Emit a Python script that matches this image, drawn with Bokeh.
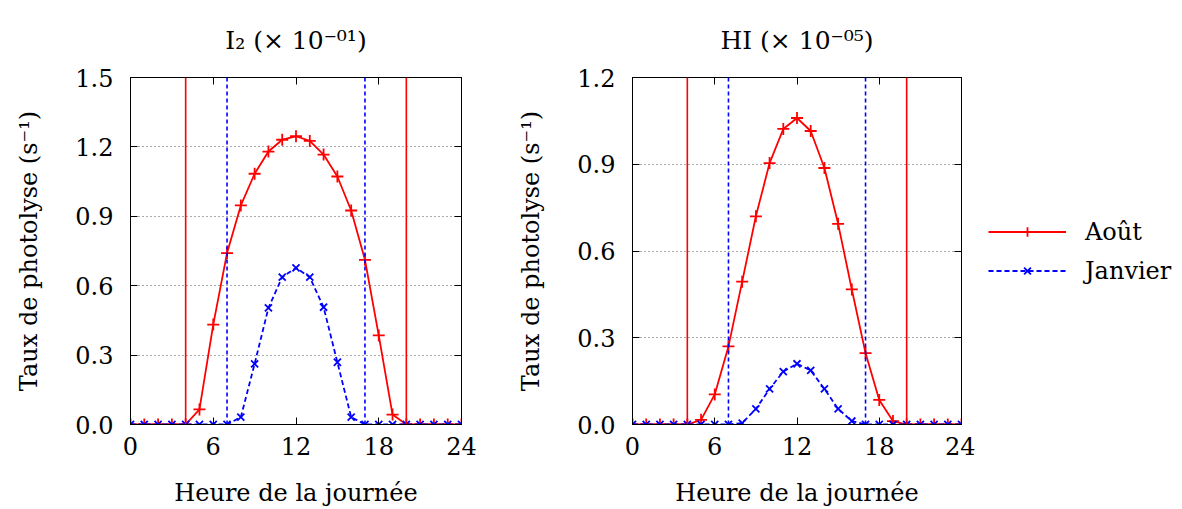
from bokeh.plotting import figure
from bokeh.models import (Span, FixedTicker, PrintfTickFormatter, LinearAxis,
                          Legend, LegendItem, Range1d, CustomJSTickFormatter)
from bokeh.layouts import row
from bokeh.embed import file_html
from bokeh.resources import INLINE

hours = list(range(25))
i2_aout = [0, 0, 0, 0, 0, 0.065, 0.432, 0.741, 0.947, 1.084, 1.180, 1.231, 1.246,
           1.226, 1.167, 1.072, 0.925, 0.712, 0.385, 0.043, 0, 0, 0, 0, 0]
i2_janvier = [0, 0, 0, 0, 0, 0, 0, 0, 0.032, 0.262, 0.504, 0.637, 0.677,
              0.637, 0.507, 0.269, 0.032, 0, 0, 0, 0, 0, 0, 0, 0]
hi_aout = [0, 0, 0, 0, 0, 0.016, 0.104, 0.270, 0.494, 0.720, 0.904, 1.022, 1.060,
           1.015, 0.887, 0.694, 0.467, 0.247, 0.085, 0.012, 0, 0, 0, 0, 0]
hi_janvier = [0, 0, 0, 0, 0, 0, 0, 0, 0.005, 0.054, 0.123, 0.183, 0.210,
              0.187, 0.123, 0.054, 0.012, 0, 0, 0, 0, 0, 0, 0, 0]
aout_sun = [4, 20]
janvier_sun = [7, 17]
x_ticks = [0, 6, 12, 18, 24]
i2_yticks = [0.0, 0.3, 0.6, 0.9, 1.2, 1.5]
hi_yticks = [0.0, 0.3, 0.6, 0.9, 1.2]
titles = ["I\u2082 (\u00d7 10\u207b\u2070\u00b9)", "HI (\u00d7 10\u207b\u2070\u2075)"]
series_names = ["Ao\u00fbt", "Janvier"]

FONT = "DejaVu Serif"
FS = "24px"
RED = "#ff0000"
BLUE = "#0000ff"
H = 509
TOP = 77
FRAME_H = 347


def style_line_renderers(p, xs, aout, janv):
    l1 = p.line(xs, aout, line_color=RED, line_width=1.8)
    m1 = p.scatter(xs, aout, marker="cross", size=12, line_color=RED, line_width=1.8)
    l2 = p.line(xs, janv, line_color=BLUE, line_width=1.8, line_dash="5 3")
    m2 = p.scatter(xs, janv, marker="x", size=10, line_color=BLUE, line_width=1.8)
    return l1, m1, l2, m2


def make_panel(title, aout, janv, yticks, width, bl, br):
    p = figure(width=width, height=H, output_backend="svg", toolbar_location=None,
               x_range=Range1d(0, 24), y_range=Range1d(yticks[0], yticks[-1]),
               min_border_left=bl, min_border_right=br, min_border_top=TOP,
               min_border_bottom=H - TOP - FRAME_H)
    p.title.text = title
    p.title.align = "center"
    p.title.text_font = FONT
    p.title.text_font_size = "25px"
    p.title.text_font_style = "normal"
    p.title.text_color = "black"
    p.title.standoff = 46
    p.outline_line_color = "black"
    p.outline_line_width = 1
    p.background_fill_color = "white"
    p.border_fill_color = "white"

    for ax in p.xaxis:
        ax.ticker = FixedTicker(ticks=x_ticks)
        ax.axis_label = "Heure de la journ\u00e9e"
        ax.major_label_standoff = 12
        ax.axis_label_standoff = 21
    for ax in p.yaxis:
        ax.ticker = FixedTicker(ticks=yticks)
        ax.formatter = PrintfTickFormatter(format="%.1f")
        ax.axis_label = "Taux de photolyse (s\u207b\u00b9)"
        ax.major_label_standoff = 17
        ax.axis_label_standoff = 29
    for ax in list(p.xaxis) + list(p.yaxis):
        ax.major_tick_in = 7
        ax.major_tick_out = 0
        ax.minor_tick_line_color = None
        ax.axis_line_color = "black"
        ax.major_tick_line_color = "black"
        ax.major_label_text_font = FONT
        ax.major_label_text_font_size = FS
        ax.major_label_text_color = "black"
        ax.axis_label_text_font = FONT
        ax.axis_label_text_font_size = FS
        ax.axis_label_text_font_style = "normal"
        ax.axis_label_text_color = "black"

    blank = CustomJSTickFormatter(code="return ''")
    top = LinearAxis(ticker=FixedTicker(ticks=x_ticks), major_tick_in=7, major_tick_out=0,
                     minor_tick_line_color=None, formatter=blank,
                     major_label_standoff=0, axis_line_color="black")
    right = LinearAxis(ticker=FixedTicker(ticks=yticks), major_tick_in=7, major_tick_out=0,
                       minor_tick_line_color=None, formatter=blank,
                       major_label_standoff=0, axis_line_color="black")
    p.add_layout(top, "above")
    p.add_layout(right, "right")

    p.xgrid.visible = False
    p.ygrid.ticker = FixedTicker(ticks=yticks[1:-1])
    p.ygrid.grid_line_color = "#555555"
    p.ygrid.grid_line_dash = "1 3"
    p.ygrid.grid_line_width = 1

    for loc in aout_sun:
        p.add_layout(Span(location=loc, dimension="height", line_color=RED, line_width=1.6))
    for loc in janvier_sun:
        p.add_layout(Span(location=loc, dimension="height", line_color=BLUE, line_width=1.6,
                          line_dash="4 3"))

    style_line_renderers(p, hours, aout, janv)
    return p


p1 = make_panel(titles[0], i2_aout, i2_janvier, i2_yticks, 510, 130, 49)
p2 = make_panel(titles[1], hi_aout, hi_janvier, hi_yticks, 465, 122, 14)

# legend panel (series drawn out of view; only the legend is visible)
p3 = figure(width=207, height=H, output_backend="svg", toolbar_location=None,
            x_range=Range1d(-200, -100), y_range=Range1d(-200, -100),
            min_border_left=0, min_border_right=0, min_border_top=0, min_border_bottom=0)
p3.axis.visible = False
p3.grid.visible = False
p3.outline_line_color = None
p3.background_fill_color = "white"
p3.border_fill_color = "white"
l1, m1, l2, m2 = style_line_renderers(p3, hours, hi_aout, hi_janvier)
leg = Legend(items=[LegendItem(label=series_names[0], renderers=[l1, m1]),
                    LegendItem(label=series_names[1], renderers=[l2, m2])],
             location="center_left", orientation="vertical")
leg.label_text_font = FONT
leg.label_text_font_size = FS
leg.label_text_color = "black"
leg.glyph_width = 78
leg.glyph_height = 24
leg.label_height = 24
leg.label_standoff = 19
leg.spacing = 11
leg.border_line_color = None
leg.background_fill_alpha = 0
leg.margin = 13
leg.padding = 5
p3.add_layout(leg, "center")

layout = row(p1, p2, p3)
open("out.html", "w").write(file_html(layout, INLINE))
